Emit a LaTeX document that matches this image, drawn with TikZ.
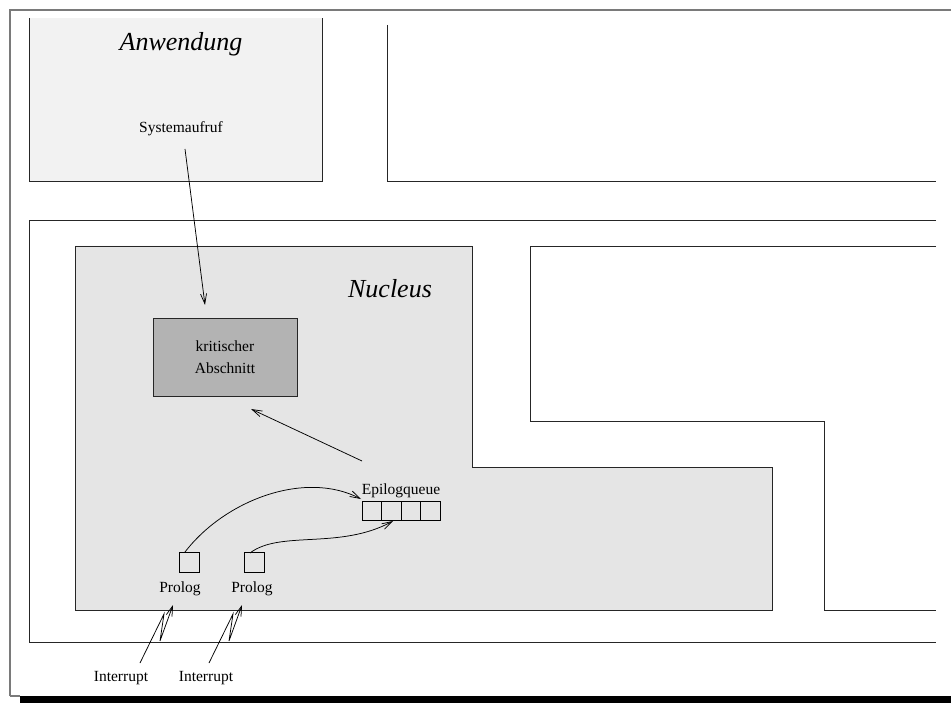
\documentclass[tikz,border=0pt]{standalone}
\usepackage{fontspec}
\setmainfont{Liberation Serif}
\usetikzlibrary{arrows.meta}
\definecolor{anwfill}{HTML}{F2F2F2}
\definecolor{nucfill}{HTML}{E5E5E5}
\definecolor{kritfill}{HTML}{B3B3B3}
\definecolor{framegray}{HTML}{7A7A7A}
\begin{document}
\begin{tikzpicture}[x=1pt,y=-1pt,
  wall/.style={draw=black!85,line width=0.9pt,line join=miter},
  outer/.style={draw=framegray,line width=1.3pt},
  tip/.style={-{Straight Barb[length=10pt,width=6pt]},line width=0.75pt},
  txt/.style={font=\fontsize{15.5}{22}\selectfont,inner sep=0pt},
  title/.style={font=\fontsize{26}{30}\selectfont\itshape,inner sep=0pt},
  cell/.style={draw=black,line width=0.8pt,inner sep=0pt,minimum width=19.5pt,minimum height=19pt},
  krit/.style={draw=black!85,line width=0.9pt,fill=kritfill,minimum width=144pt,minimum height=78pt,
    align=center,font=\fontsize{15.5}{22}\selectfont}
]
\useasboundingbox (0,0) rectangle (951,703);

% outer frame with dark shadow bar
\draw[outer] (10,696) -- (10,10) -- (951,10);
\draw[outer] (10,696) -- (20,696);
\fill[black] (20,695.5) rectangle (951,703);

% application area
\fill[anwfill] (29,18) rectangle (322,181);
\draw[wall] (29,18) -- (29,181) -- (322,181) -- (322,18);
\draw[wall] (387,25) -- (387,181) -- (936,181);

% kernel frame
\draw[wall] (936,220) -- (29,220) -- (29,642) -- (936,642);

% nucleus region
\filldraw[wall,fill=nucfill] (75,246) -- (472,246) -- (472,467) -- (772,467) -- (772,610) -- (75,610) -- cycle;
\draw[wall] (936,246) -- (530,246) -- (530,421) -- (824,421) -- (824,610) -- (936,610);

% texts
\node[title,anchor=base] (anw) at (181,51) {Anwendung};
\node[txt,anchor=base] (sys) at (181,133) {Systemaufruf};
\node[title,anchor=base] (nuc) at (390,298) {Nucleus};
\node[krit] (ka) at (225,357) {kritischer\\Abschnitt};

% epilogue queue
\node[cell] (q1) at (371.75,510.5) {};
\node[cell] (q2) at (391.25,510.5) {};
\node[cell] (q3) at (410.75,510.5) {};
\node[cell] (q4) at (430.25,510.5) {};
\node[txt,anchor=base] (eq) at (401,494) {Epilogqueue};

% prologues
\node[cell,minimum width=20pt,minimum height=20pt] (p1) at (189,562) {};
\node[cell,minimum width=20pt,minimum height=20pt] (p2) at (254,562) {};
\node[txt,anchor=base] (pl1) at (180,592) {Prolog};
\node[txt,anchor=base] (pl2) at (252,592) {Prolog};

% interrupts
\node[txt,anchor=base] (int1) at (121,681) {Interrupt};
\node[txt,anchor=base] (int2) at (206,681) {Interrupt};

% connector end points
\coordinate (sysA) at (185,149);
\coordinate (sysB) at (205,305);
\coordinate (epiA) at (362,461);
\coordinate (epiB) at (251,409);
\coordinate (c1A) at (185,552);
\coordinate (c1B) at (361,499);
\coordinate (c2A) at (250,553);
\coordinate (c2B) at (393,521);

\draw[tip] (sysA) -- (sysB);
\draw[tip] (epiA) -- (epiB);
\draw[tip] (c1A) .. controls (225,500) and (305,470) .. (c1B);
\draw[tip] (c2A) .. controls (280,530) and (340,550) .. (c2B);

% lightning arrows
\coordinate (l1a) at (140,663);
\coordinate (l1b) at (164,614);
\coordinate (l1c) at (160,641);
\coordinate (l1d) at (173,605);
\draw[tip,line join=miter] (l1a) -- (l1b) -- (l1c) -- (l1d);
\coordinate (l2a) at (209,663);
\coordinate (l2b) at (233,614);
\coordinate (l2c) at (229,641);
\coordinate (l2d) at (242,605);
\draw[tip,line join=miter] (l2a) -- (l2b) -- (l2c) -- (l2d);
\end{tikzpicture}
\end{document}
